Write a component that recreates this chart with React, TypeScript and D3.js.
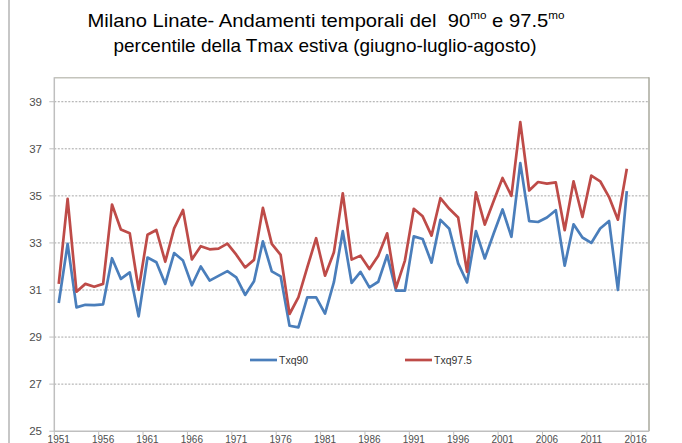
import React from "react";
import * as d3 from "d3";

const years: number[] = d3.range(1951, 2018);
const labelYears: number[] = d3.range(1951, 2017, 5);
const yTicks: number[] = [25, 27, 29, 31, 33, 35, 37, 39];

const txq90: number[] = [
  30.45, 32.96, 30.26, 30.37, 30.36, 30.39, 32.35, 31.47, 31.75, 29.88,
  32.38, 32.18, 31.26, 32.57, 32.25, 31.2, 32.0, 31.4, 31.6, 31.8,
  31.54, 30.79, 31.37, 33.07, 31.79, 31.58, 29.48, 29.41, 30.69, 30.69,
  30.0, 31.33, 33.5, 31.3, 31.77, 31.11, 31.35, 32.48, 30.97, 30.97,
  33.28, 33.17, 32.16, 33.98, 33.6, 32.13, 31.32, 33.5, 32.34, 33.4,
  34.42, 33.26, 36.39, 33.93, 33.89, 34.08, 34.39, 32.03, 33.79, 33.23,
  33.0, 33.61, 33.93, 31.0, 35.2,
];
const txq975: number[] = [
  31.26, 34.87, 30.93, 31.26, 31.14, 31.26, 34.63, 33.57, 33.41, 31.01,
  33.35, 33.55, 32.2, 33.62, 34.4, 32.3, 32.86, 32.73, 32.76, 32.97,
  32.5, 31.96, 32.28, 34.49, 32.96, 32.49, 29.98, 30.69, 31.96, 33.2,
  31.61, 32.6, 35.11, 32.29, 32.46, 31.89, 32.46, 33.41, 31.09, 32.25,
  34.45, 34.13, 33.31, 34.9, 34.45, 34.08, 31.77, 35.15, 33.78, 34.78,
  35.76, 35.0, 38.13, 35.23, 35.59, 35.52, 35.57, 33.54, 35.62, 34.1,
  35.86, 35.62, 34.95, 33.99, 36.15,
];

const series = [
  { name: "Txq90", values: txq90, color: "#4a7ebb" },
  { name: "Txq97.5", values: txq975, color: "#be4b48" },
];

const W = 682;
const H = 443;
const left = 54.3;
const right = 649;
const top = 78.2;
const bottom = 431.2;

export default function App() {
  const x = d3.scaleBand<number>().domain(years).range([left, right]).padding(0);
  const y = d3.scaleLinear().domain([25, 40]).range([bottom, top]);
  const bw = x.bandwidth();
  const line = d3
    .line<number>()
    .x((_, i) => (x(years[i]) as number) + bw / 2)
    .y((d) => y(d));

  const font = "'Liberation Sans', Arial, sans-serif";

  return (
    <div style={{ position: "absolute", left: 0, top: 0 }}>
      <svg width={W} height={H} style={{ display: "block", background: "#fff" }}>
        {/* slide left border */}
        <line x1={9} x2={9} y1={0} y2={H} stroke="#b4b4b4" strokeWidth={1.5} />

        {/* title */}
        <text
          x={326}
          y={27}
          textAnchor="middle"
          fontFamily={font}
          fontSize={19}
          fill="#000"
          textLength={477}
          lengthAdjust="spacingAndGlyphs"
        >
          {"Milano Linate- Andamenti temporali del \u00a090"}
          <tspan fontSize={11} dy={-8}>mo</tspan>
          <tspan dy={8}>{" e 97.5"}</tspan>
          <tspan fontSize={11} dy={-8}>mo</tspan>
        </text>
        <text
          x={325}
          y={52}
          textAnchor="middle"
          fontFamily={font}
          fontSize={19}
          fill="#000"
          textLength={423}
          lengthAdjust="spacingAndGlyphs"
        >
          percentile della Tmax estiva (giugno-luglio-agosto)
        </text>

        {/* gridlines */}
        {yTicks
          .filter((t) => t > 25)
          .map((t) => (
            <line
              key={"g" + t}
              x1={left}
              x2={right}
              y1={y(t)}
              y2={y(t)}
              stroke="#a6a6a6"
              strokeWidth={1}
              strokeDasharray="2,1.5"
            />
          ))}

        {/* plot frame */}
        <line x1={left} x2={right} y1={top - 0.5} y2={top - 0.5} stroke="#c4c4bc" strokeWidth={1.5} />
        <line x1={right} x2={right} y1={top - 1} y2={bottom} stroke="#a8a89c" strokeWidth={1.5} />

        {/* axes */}
        <line x1={left} x2={left} y1={top - 1} y2={bottom} stroke="#bfbfbf" strokeWidth={1.5} />
        <line x1={left} x2={right} y1={bottom} y2={bottom} stroke="#bfbfbf" strokeWidth={1.5} />

        {/* y ticks and labels */}
        {yTicks.map((t) => (
          <g key={"y" + t}>
            <line x1={left - 5} x2={left} y1={y(t)} y2={y(t)} stroke="#bfbfbf" strokeWidth={1} />
            <text
              x={42}
              y={y(t)}
              dy="0.35em"
              textAnchor="end"
              fontFamily={font}
              fontSize={11.5}
              fill="#4d4d4d"
            >
              {t}
            </text>
          </g>
        ))}

        {/* x ticks and labels */}
        {labelYears.map((yr) => (
          <g key={"x" + yr}>
            <line
              x1={x(yr) as number}
              x2={x(yr) as number}
              y1={bottom}
              y2={bottom + 4}
              stroke="#bfbfbf"
              strokeWidth={1}
            />
            <text
              x={(x(yr) as number) + bw / 2}
              y={442.5}
              textAnchor="middle"
              fontFamily={font}
              fontSize={10}
              fill="#4d4d4d"
            >
              {yr}
            </text>
          </g>
        ))}

        {/* series lines */}
        {series.map((s) => (
          <path
            key={s.name}
            d={line(s.values) || ""}
            fill="none"
            stroke={s.color}
            strokeWidth={2.7}
            strokeLinejoin="round"
          />
        ))}

        {/* legend */}
        {series.map((s, i) => {
          const lx = 250 + i * 155;
          return (
            <g key={"lg" + s.name}>
              <line x1={lx} x2={lx + 27} y1={360} y2={360} stroke={s.color} strokeWidth={2.7} />
              <text x={lx + 29} y={360} dy="0.35em" fontFamily={font} fontSize={10.5} fill="#333">
                {s.name}
              </text>
            </g>
          );
        })}
      </svg>
    </div>
  );
}
